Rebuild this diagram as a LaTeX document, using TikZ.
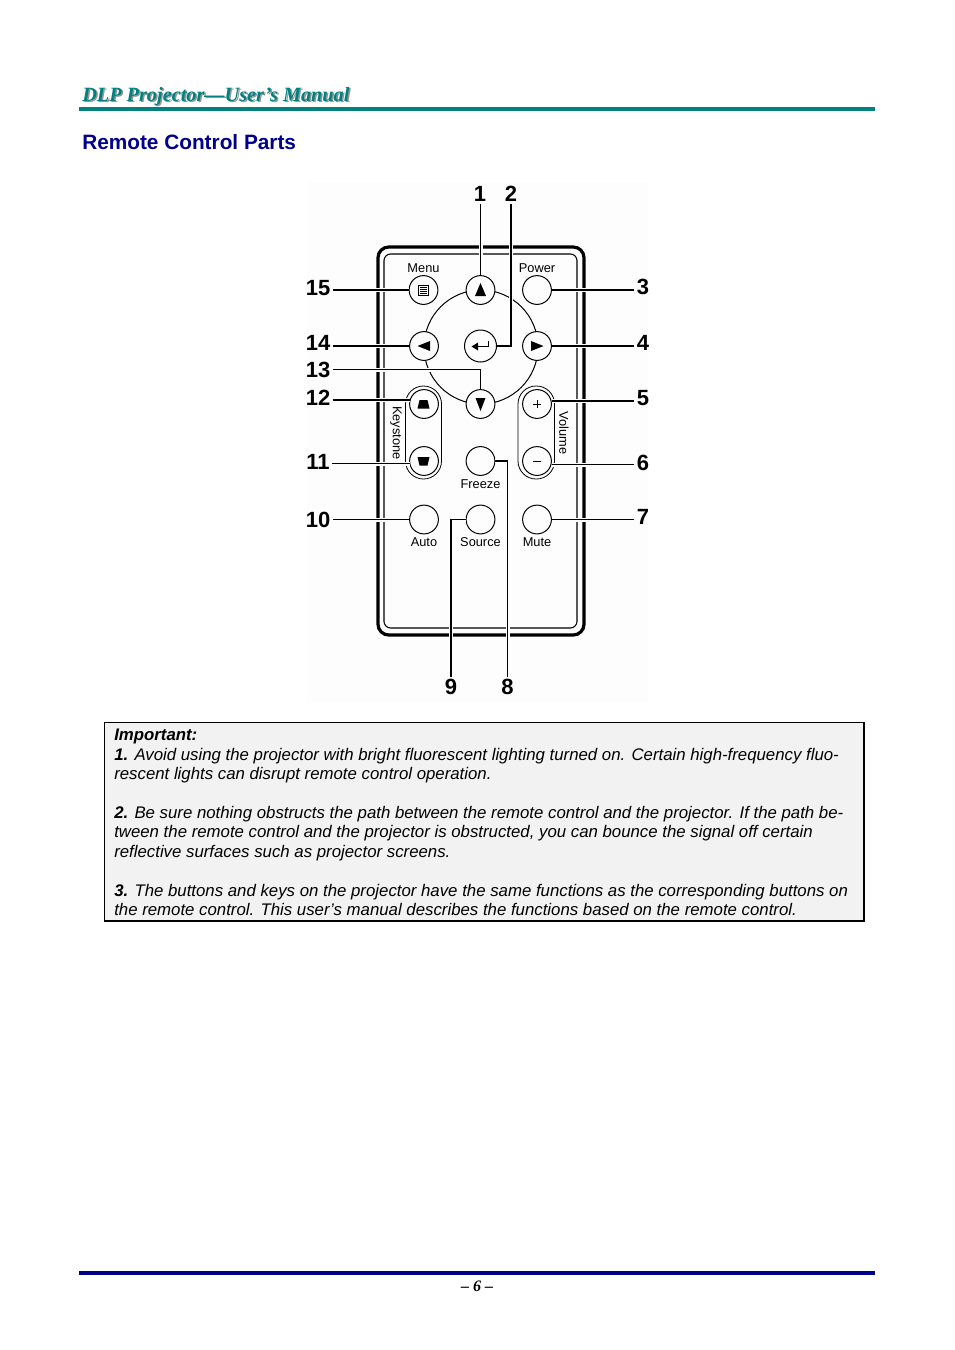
\documentclass[tikz,border=0pt]{standalone}
\usepackage{fontspec}
\setmainfont{Liberation Serif}
\setsansfont{Liberation Sans}
\usepackage{xcolor}
\usetikzlibrary{arrows.meta,positioning,calc}

\definecolor{headteal}{RGB}{0,128,128}
\definecolor{headgray}{RGB}{150,150,150}
\definecolor{headnavy}{RGB}{0,0,139}
\definecolor{remotebg}{RGB}{253,253,253}
\definecolor{notegray}{RGB}{242,242,242}

\tikzset{
    btn/.style={circle,draw,line width=0.75pt,fill=remotebg,minimum size=21.6pt,inner sep=0pt},
    leader/.style={line width=1pt,preaction={draw=remotebg,line width=3pt}},
    num/.style={font=\sffamily\bfseries\fontsize{16.5}{18}\selectfont,inner sep=0pt,outer sep=2pt},
    btnname/.style={font=\sffamily\fontsize{9.6}{11}\selectfont,inner sep=0pt},
    capsule/.style={line width=0.6pt,fill=remotebg,rounded corners=13.5pt},
}

\begin{document}
\begin{tikzpicture}[x=0.75pt,y=-0.75pt]
    \useasboundingbox (0,0) rectangle (954,1350);
    \fill[white] (0,0) rectangle (954,1350);

    % page head
    \node[anchor=base west,inner sep=0pt,text=headgray,font=\rmfamily\bfseries\itshape\fontsize{15.2}{17}\selectfont] (headshadow) at (83.5,102) {DLP Projector—User’s Manual};
    \node[anchor=base west,inner sep=0pt,text=headteal,font=\rmfamily\bfseries\itshape\fontsize{15.2}{17}\selectfont] (head) at (82,101) {DLP Projector—User’s Manual};
    \fill[headteal] (79,107) rectangle (875,111);
    \node[anchor=base west,inner sep=0pt,text=headnavy,font=\sffamily\bfseries\fontsize{15.6}{18}\selectfont] (title) at (82,149) {Remote Control Parts};

    % remote body
    \fill[remotebg] (307,182) rectangle (648,703);
    \draw[line width=2.4pt,rounded corners=8pt] (378,247) rectangle (584,635);
    \draw[line width=0.8pt,rounded corners=5pt] (384,254) rectangle (577,628);
    \draw[line width=0.75pt] (481,347) circle (57);
    \draw[capsule] (405.5,386) rectangle (441.5,479);
    \draw[capsule] (518,386) rectangle (554.5,479);

    % buttons
    \node[btn] (menu) at (423.5,290) {};
    \node[btn] (up) at (480.5,290) {};
    \node[btn] (power) at (537,290) {};
    \node[btn] (left) at (424,346) {};
    \node[btn,minimum size=24pt] (enter) at (480.5,346) {};
    \node[btn] (right) at (537,346) {};
    \node[btn] (down) at (480.5,404) {};
    \node[btn] (keytop) at (424,404) {};
    \node[btn] (keybot) at (424,461) {};
    \node[btn] (volup) at (537,404) {};
    \node[btn] (voldn) at (537,461) {};
    \node[btn] (freeze) at (480.5,461) {};
    \node[btn] (auto) at (424,519.5) {};
    \node[btn] (source) at (480.5,519.5) {};
    \node[btn] (mute) at (537,519.5) {};

    % number labels
    \node[num] (n1) at (480,194) {1};
    \node[num] (n2) at (511,194) {2};
    \node[num] (n3) at (643,287) {3};
    \node[num] (n4) at (643,343) {4};
    \node[num] (n5) at (643,398) {5};
    \node[num] (n6) at (643,463) {6};
    \node[num] (n7) at (643,517) {7};
    \node[num] (n8) at (507.5,687) {8};
    \node[num] (n9) at (451,687) {9};
    \node[num] (n10) at (318,520) {10};
    \node[num] (n11) at (318,462) {11};
    \node[num] (n12) at (318,398) {12};
    \node[num] (n13) at (318,369.5) {13};
    \node[num] (n14) at (318,343) {14};
    \node[num] (n15) at (318,288) {15};

    \coordinate (fivey) at (551.5,401);
    \coordinate (sixy) at (551.5,464.5);
    \coordinate (elevy) at (410,463.5);
    \coordinate (twelvey) at (410,400);

    % leaders
    \draw[leader] (n1.south -| up) -- (up);
    \draw[leader] (n2) |- (enter);
    \draw[leader] (n3.west |- power) -- (power);
    \draw[leader] (n4.west |- right) -- (right);
    \draw[leader] (n5.west |- fivey) -- (fivey);
    \draw[leader] (n6.west |- sixy) -- (sixy);
    \draw[leader] (n7.west |- mute) -- (mute);
    \draw[leader] (n8) |- (freeze);
    \draw[leader] (n9) |- (source);
    \draw[leader] (n10.east |- auto) -- (auto);
    \draw[leader] (n11.east |- elevy) -- (elevy);
    \draw[leader] (n12.east |- twelvey) -- (twelvey);
    \draw[leader] (n13) -| (down);
    \draw[leader] (n14.east |- left) -- (left);
    \draw[leader] (n15.east |- menu) -- (menu);

    % button glyphs
    \fill (480.5,283) -- (486,296) -- (475,296) -- cycle;
    \fill (480.5,411) -- (485.5,398) -- (475.5,398) -- cycle;
    \fill (417.5,346) -- (430,341) -- (430,351) -- cycle;
    \fill (543.5,346) -- (531,341) -- (531,351) -- cycle;
    \draw[line width=1.1pt] (488.5,341) -- (488.5,346.5) -- (476,346.5);
    \fill (471.5,346.5) -- (478,342.5) -- (478,350.5) -- cycle;
    \draw[line width=0.6pt] (418.5,285) rectangle (428.5,295);
    \foreach \y in {287,289,291,293}
        \draw[line width=0.6pt] (420,\y) -- (427,\y);
    \fill (419.5,400) -- (427.5,400) -- (429.5,408.5) -- (417.5,408.5) -- cycle;
    \fill (417.5,457) -- (429.5,457) -- (427.5,465.5) -- (419.5,465.5) -- cycle;
    \draw[line width=0.6pt] (533,404) -- (541,404) (537,400) -- (537,408);
    \draw[line width=0.6pt] (533,461) -- (541,461);

    % button names
    \node[btnname] (menutxt) at (423.5,268) {Menu};
    \node[btnname] (powertxt) at (537,268) {Power};
    \node[btnname] (freezetxt) at (480.5,484.5) {Freeze};
    \node[btnname] (autotxt) at (424,542) {Auto};
    \node[btnname] (sourcetxt) at (480.5,542) {Source};
    \node[btnname] (mutetxt) at (537,542) {Mute};
    \node[btnname,rotate=-90] (keystonetxt) at (396,433) {Keystone};
    \node[btnname,rotate=-90] (volumetxt) at (564,433) {Volume};

    % note box
    \draw[fill=notegray,line width=0.75pt] (104.5,722.5) rectangle (864,921);
    \draw[line width=1.2pt] (864,722.5) -- (864,921) -- (104.5,921);
    \node[anchor=north west,inner sep=0pt,align=left,font=\sffamily\itshape\fontsize{12.6}{14.55}\selectfont] (note) at (114,729) {%
        \frenchspacing
        \textbf{Important:}\\
        \textbf{1.} Avoid using the projector with bright fluorescent lighting turned on. Certain high-frequency fluo-\\
        rescent lights can disrupt remote control operation.\\[14.55pt]
        \textbf{2.} Be sure nothing obstructs the path between the remote control and the projector. If the path be-\\
        tween the remote control and the projector is obstructed, you can bounce the signal off certain\\
        reflective surfaces such as projector screens.\\[14.55pt]
        \textbf{3.} The buttons and keys on the projector have the same functions as the corresponding buttons on\\
        the remote control. This user’s manual describes the functions based on the remote control.};

    % page foot
    \fill[headnavy] (79,1271) rectangle (875,1275);
    \node[inner sep=0pt,font=\rmfamily\bfseries\itshape\fontsize{12}{12}\selectfont] (foot) at (477,1286) {– 6 –};
\end{tikzpicture}
\end{document}
